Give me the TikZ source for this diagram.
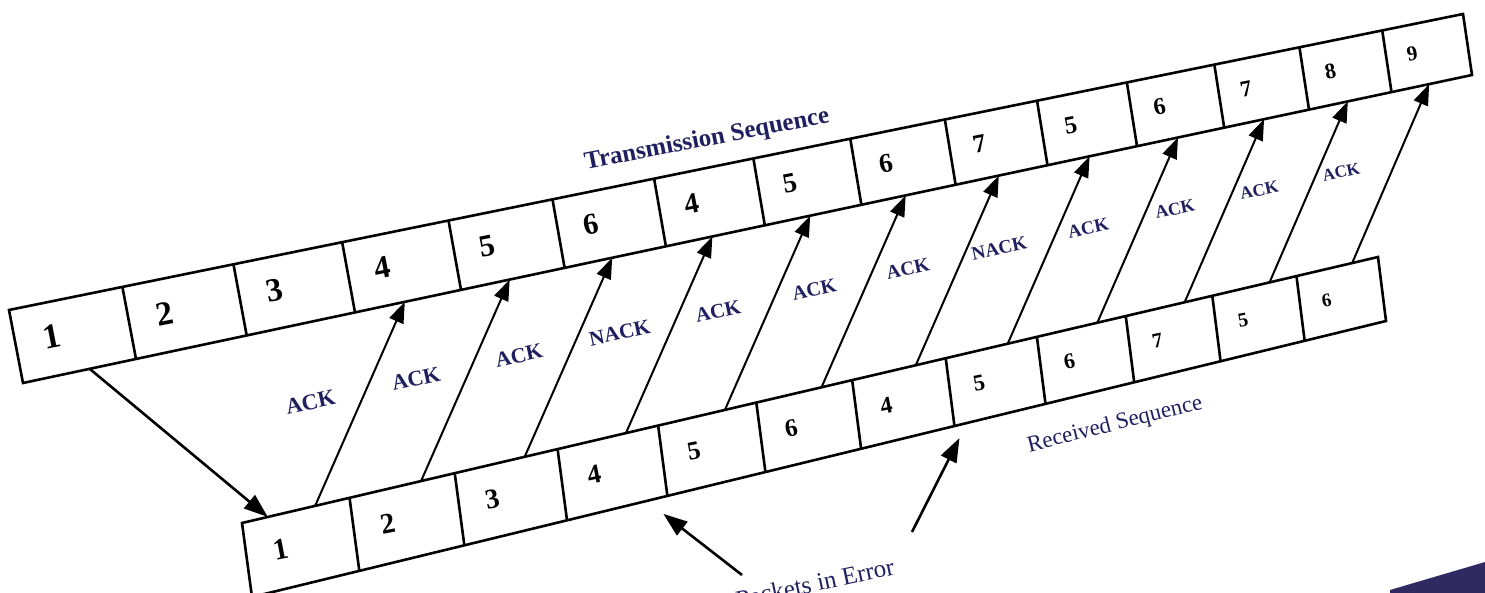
\documentclass[tikz,border=0pt]{standalone}
\usepackage{fontspec}
\setmainfont{Liberation Serif}
\usetikzlibrary{calc, arrows.meta}
\definecolor{inknavy}{RGB}{32,32,96}
\definecolor{cornerdark}{RGB}{48,42,98}

\begin{document}
\begin{tikzpicture}[x=1pt, y=-1pt,
  boxline/.style={line width=2.6pt, line join=miter},
  ackarrow/.style={line width=2pt, -{Triangle[length=21pt, width=15pt]}},
  bigarrow/.style={line width=2.6pt, -{Triangle[length=24pt, width=17pt]}},
  digit/.style={font=\bfseries\fontsize{#1}{#1}\selectfont, rotate=11, inner sep=0pt},
  acklabel/.style={font=\bfseries\fontsize{#1}{#1}\selectfont, text=inknavy, rotate=12, inner sep=0pt},
  caption/.style={font=\fontsize{#1}{#1}\selectfont, text=inknavy, inner sep=0pt},
  boldcaption/.style={font=\bfseries\fontsize{#1}{#1}\selectfont, text=inknavy, inner sep=0pt},
]
  \useasboundingbox (0,0) rectangle (1485,593);
  \clip (0,0) rectangle (1485,593);
  \fill[cornerdark] (1390,593) -- (1390,590) -- (1485,562) -- (1485,593) -- cycle;

  % 上排：发送序列
  \coordinate (tTL) at (9,310);
  \coordinate (tTR) at (1463,14);
  \coordinate (tBL) at (23,383);
  \coordinate (tBR) at (1472,75);
  \foreach \i in {0,...,15}{
    \pgfmathsetmacro\g{(114.2*\i-1.175*\i*\i)/1449}
    \coordinate (tu\i) at ($(tTL)!\g!(tTR)$);
    \coordinate (tb\i) at ($(tBL)!\g!(tBR)$);
  }
  \draw[boxline] (tTL) -- (tTR) -- (tBR) -- (tBL) -- cycle;
  \foreach \i in {1,...,14} \draw[boxline] (tu\i) -- (tb\i);
  \foreach \d [count=\i] in {1,2,3,4,5,6,4,5,6,7,5,6,7,8,9}{
    \pgfmathtruncatemacro\a{\i-1}
    \pgfmathsetmacro\fs{36-\i}
    \node[digit=\fs] (td\i) at ($($(tu\a)!0.32!(tu\i)$)!0.47!($(tb\a)!0.32!(tb\i)$)$) {\d};
  }

  % 下排：接收序列
  \coordinate (rTL) at (242,523);
  \coordinate (rTR) at (1378,257);
  \coordinate (rBL) at (252,597);
  \coordinate (rBR) at (1386,321);
  \foreach \i in {0,...,12}{
    \pgfmathsetmacro\g{(108.7*\i-1.167*\i*\i)/1136}
    \coordinate (ru\i) at ($(rTL)!\g!(rTR)$);
    \coordinate (rb\i) at ($(rBL)!\g!(rBR)$);
  }
  \draw[boxline] (rTL) -- (rTR) -- (rBR) -- (rBL) -- cycle;
  \foreach \i in {1,...,11} \draw[boxline] (ru\i) -- (rb\i);
  \foreach \d [count=\i] in {1,2,3,4,5,6,4,5,6,7,5,6}{
    \pgfmathtruncatemacro\a{\i-1}
    \pgfmathsetmacro\fs{31-\i}
    \node[digit=\fs] (rd\i) at ($($(ru\a)!0.32!(ru\i)$)!0.47!($(rb\a)!0.32!(rb\i)$)$) {\d};
  }

  % 第一个分组与应答
  \coordinate (snd) at ($(tb0)!0.59!(tb1)$);
  \coordinate (rcv) at ($(ru0)!0.24!(ru1)$);
  \draw[bigarrow] (snd) -- (rcv);
  \foreach \lab [count=\k] in {ACK,ACK,ACK,NACK,ACK,ACK,ACK,NACK,ACK,ACK,ACK,ACK}{
    \pgfmathtruncatemacro\a{\k-1}
    \pgfmathtruncatemacro\n{\k+2}
    \pgfmathtruncatemacro\m{\k+3}
    \pgfmathsetmacro\fs{23-0.5*\k}
    \coordinate (ack\k s) at ($(ru\a)!0.68!(ru\k)$);
    \coordinate (ack\k e) at ($(tb\n)!0.47!(tb\m)$);
    \draw[ackarrow] (ack\k s) -- node[acklabel=\fs, xshift=-48pt, yshift=12pt] (lab\k) {\lab} (ack\k e);
  }

  \node[boldcaption=25, rotate=11] (tx) at (707,140) {Transmission Sequence};
  \node[caption=23, rotate=14] (rx) at (1115,425) {Received Sequence};
  \node[caption=25, rotate=12] (err) at (815,583) {Packets in Error};

  % 出错分组
  \coordinate (e1) at (742,575);
  \coordinate (e2) at (912,532);
  \coordinate (p1) at ($(rb4)+(-4,18)$);
  \coordinate (p2) at ($(rb7)+(5,12)$);
  \draw[bigarrow] (e1) -- (p1);
  \draw[bigarrow] (e2) -- (p2);
\end{tikzpicture}
\end{document}
